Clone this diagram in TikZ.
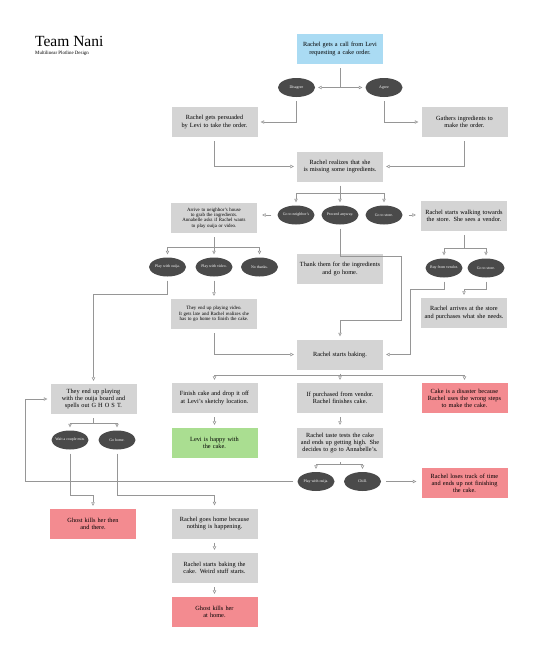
\documentclass[tikz,border=0pt]{standalone}
\usepackage{fontspec}
\setmainfont{Liberation Serif}
\usetikzlibrary{arrows.meta}
\usetikzlibrary{shapes.geometric}

\definecolor{boxgray}{RGB}{212,212,212}
\definecolor{boxblue}{RGB}{170,219,243}
\definecolor{boxgreen}{RGB}{170,222,145}
\definecolor{boxred}{RGB}{243,139,144}
\definecolor{ovalgray}{RGB}{74,74,74}
\definecolor{linegray}{RGB}{150,150,150}

\begin{document}
\begin{tikzpicture}[x=1pt, y=-1pt,
  box/.style={fill=boxgray, text width=86pt, minimum height=30pt, align=center, inner xsep=0pt, inner ysep=1pt, font=\fontsize{6.3}{7.1}\selectfont},
  small/.style={font=\fontsize{4.9}{5.3}\selectfont},
  oval/.style={ellipse, fill=ovalgray, text=white, minimum width=37pt, minimum height=19pt, inner xsep=-5pt, inner ysep=0pt, font=\fontsize{3.9}{4.2}\selectfont},
  link/.style={draw=linegray, line width=0.6pt},
  arr/.style={link, -{Triangle[open, length=3.5pt, width=3.5pt]}, shorten >=3pt},
  from/.style={shorten <=4pt}]
\useasboundingbox (0,0) rectangle (540,653);

\node[anchor=base west, inner sep=0pt, font=\fontsize{15.5}{18}\selectfont] (title) at (35,46) {Team Nani};
\node[anchor=base west, inner sep=0pt, font=\fontsize{4.9}{5}\selectfont] (sub) at (35,54) {Multilinear Plotline Design};

\node[box, fill=boxblue] (call) at (340,49) {Rachel gets a call from Levi\\requesting a cake order.};
\node[oval] (dis) at (296.5,87.5) {Disagree};
\node[oval] (agr) at (384,87.5) {Agree};
\node[box] (pers) at (214.5,122) {Rachel gets persuaded\\by Levi to take the order.};
\node[box] (gath) at (464.5,122) {Gathers ingredients to\\make the order.};
\node[box] (real) at (340,166.5) {Rachel realizes that she\\is missing some ingredients.};
\node[oval] (nb) at (296,215) {Go to neighbor's};
\node[oval] (pro) at (340,215) {Proceed anyway.};
\node[oval] (gst) at (384,215) {Go to store.};
\node[box, small] (arrive) at (214,218) {Arrive to neighbor's house\\to grab the ingredients.\\Annabelle asks if Rachel wants\\to play ouija or video.};
\node[box] (walk) at (464,216) {Rachel starts walking towards\\the store. She sees a vendor.};
\node[oval] (po1) at (167.5,267) {Play with ouija.};
\node[oval] (pv) at (214,267) {Play with video.};
\node[oval] (nt) at (259.5,267) {No thanks.};
\node[box] (thank) at (340,269) {Thank them for the ingredients\\and go home.};
\node[oval] (bv) at (444,268) {Buy from vendor.};
\node[oval] (gs2) at (486,268) {Go to store.};
\node[box, small] (vid) at (214,314) {They end up playing video.\\It gets late and Rachel realizes she\\has to go home to finish the cake.};
\node[box] (arrives) at (464,313) {Rachel arrives at the store\\and purchases what she needs.};
\node[box] (bake) at (340,354.5) {Rachel starts baking.};
\node[box] (ouija) at (93.5,399) {They end up playing\\with the ouija board and\\spells out G H O S T.};
\node[box] (fin) at (214.5,398) {Finish cake and drop it off\\at Levi's sketchy location.};
\node[box] (ifp) at (340,398) {If purchased from vendor.\\Rachel finishes cake.};
\node[box, fill=boxred] (wrong) at (464.5,398) {Cake is a disaster because\\Rachel uses the wrong steps\\to make the cake.};
\node[box, fill=boxgreen] (levi) at (214.5,443) {Levi is happy with\\the cake.};
\node[box] (taste) at (340,443) {Rachel taste tests the cake\\and ends up getting high. She\\decides to go to Annabelle's.};
\node[oval] (wait) at (70,440) {Wait a couple min.};
\node[oval] (home) at (117,440) {Go home.};
\node[oval] (po2) at (316,481.5) {Play with ouija.};
\node[oval] (chill) at (362.5,481.5) {Chill.};
\node[box, fill=boxred] (lose) at (464.5,483) {Rachel loses track of time\\and ends up not finishing\\the cake.};
\node[box, fill=boxred] (ghost1) at (93,524) {Ghost kills her then\\and there.};
\node[box] (rhome) at (214.5,523.5) {Rachel goes home because\\nothing is happening.};
\node[box] (weird) at (214.5,568) {Rachel starts baking the\\cake. Weird stuff starts.};
\node[box, fill=boxred] (ghost2) at (214.5,612) {Ghost kills her\\at home.};

% junctions and bends
\coordinate (j1) at (340,87.5);
\coordinate (j2) at (340,193);
\coordinate (j3) at (214,247);
\coordinate (j4) at (464,248);
\coordinate (j5) at (340,375);
\coordinate (j6) at (340,464);
\coordinate (j7) at (93.5,423);
\coordinate (c5) at (410,289);
\coordinate (c6) at (464,289);
\coordinate (c7) at (93.5,294);
\coordinate (c8) at (25,481.5);
\coordinate (c9) at (93,495);
\coordinate (c10) at (214.5,495);

\draw[link, from] (call) -- (j1);
\draw[arr] (j1) -- (dis);
\draw[arr] (j1) -- (agr);
\draw[arr, from] (dis) |- (pers);
\draw[arr, from] (agr) |- (gath);
\draw[arr, from] (pers) |- (real);
\draw[arr, from] (gath) |- (real);

\draw[link, from] (real) -- (j2);
\draw[arr] (j2) -| (nb);
\draw[arr] (j2) -- (pro);
\draw[arr] (j2) -| (gst);
\draw[arr, shorten <=6pt, shorten >=5pt] (nb.west) -- (nb.west -| arrive.east);
\draw[arr, shorten <=6pt, shorten >=5pt] (gst.east) -- (gst.east -| walk.west);

\draw[link, from] (arrive) -- (j3);
\draw[arr] (j3) -| (po1);
\draw[arr] (j3) -- (pv);
\draw[arr] (j3) -| (nt);
\draw[link, from] (walk) -- (j4);
\draw[arr] (j4) -| (bv);
\draw[arr] (j4) -| (gs2);

\draw[arr, from] (pro.south) -- ++(0,32) -| ++(61,64) -| (bake);
\draw[arr, from] (bv.south) |- (c5) |- (bake);
\draw[arr, from] (gs2.south) |- (c6) -- (arrives);
\draw[arr, from] (pv) -- (vid);
\draw[arr, from] (vid) |- (bake);
\draw[arr, from] (po1.south) |- (c7) -- (ouija);

\draw[link, from] (bake) -- (j5);
\draw[arr] (j5) -| (fin);
\draw[arr] (j5) -- (ifp);
\draw[arr] (j5) -| (wrong);
\draw[arr, from] (fin) -- (levi);
\draw[arr, from] (ifp) -- (taste);

\draw[link, from] (taste) -- (j6);
\draw[arr] (j6) -| (po2);
\draw[arr] (j6) -| (chill);
\draw[arr, shorten <=5pt, shorten >=5pt] (chill.east) -- (chill.east -| lose.west);
\draw[arr, from] (po2.west) -- (c8) |- (ouija);

\draw[link, from] (ouija) -- (j7);
\draw[arr] (j7) -| (wait);
\draw[arr] (j7) -| (home);
\draw[arr, from] (wait.south) |- (c9) -- (ghost1);
\draw[arr, from] (home.south) |- (c10) -- (rhome);
\draw[arr, from] (rhome) -- (weird);
\draw[arr, from] (weird) -- (ghost2);
\end{tikzpicture}
\end{document}
